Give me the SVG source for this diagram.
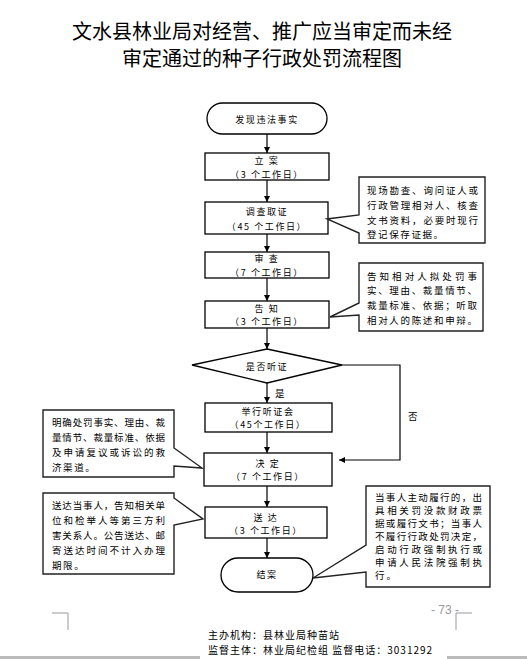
<svg xmlns="http://www.w3.org/2000/svg" width="527" height="659" viewBox="0 0 527 659">
<defs>
<style>
.box{fill:#fff;stroke:#000;stroke-width:1.3}
.co{fill:#fff;stroke:#222;stroke-width:1.4;stroke-linejoin:miter}
.ln{fill:none;stroke:#000;stroke-width:1.2}
.t{font-family:"Noto Sans CJK SC","Noto Sans",sans-serif;font-size:9px;letter-spacing:1.6px;text-anchor:middle;fill:#000}
.c{font-family:"Noto Sans CJK SC","Noto Sans",sans-serif;font-size:9.5px;fill:#000}
.title{font-family:"Noto Sans CJK SC",sans-serif;font-size:20px;text-anchor:middle;fill:#000}
.ft{font-family:"Noto Sans CJK SC",sans-serif;font-size:10px;letter-spacing:1px;fill:#000}
</style>
<marker id="ah" viewBox="0 0 8 8" refX="8" refY="4" markerWidth="6" markerHeight="6" markerUnits="userSpaceOnUse" orient="auto">
<path d="M0,0 L8,4 L0,8 Z" fill="#000"/>
</marker>
</defs>
<rect width="527" height="659" fill="#fff"/>
<g id="title">
<text class="title" x="262" y="39">文水县林业局对经营、推广应当审定而未经</text>
<text class="title" x="262" y="66">审定通过的种子行政处罚流程图</text>
</g>
<g id="connectors">
<line class="ln" x1="267" y1="134" x2="267" y2="153" marker-end="url(#ah)"/>
<line class="ln" x1="267" y1="180" x2="267" y2="202" marker-end="url(#ah)"/>
<line class="ln" x1="267" y1="234" x2="267" y2="252" marker-end="url(#ah)"/>
<line class="ln" x1="267" y1="278" x2="267" y2="301" marker-end="url(#ah)"/>
<line class="ln" x1="267" y1="328" x2="267" y2="349" marker-end="url(#ah)"/>
<line class="ln" x1="267" y1="383" x2="267" y2="403" marker-end="url(#ah)"/>
<line class="ln" x1="267" y1="432" x2="267" y2="453" marker-end="url(#ah)"/>
<polyline class="ln" points="342,365 400,365 400,460 339,460" marker-end="url(#ah)"/>
<line class="ln" x1="267" y1="486" x2="267" y2="507" marker-end="url(#ah)"/>
<line class="ln" x1="267" y1="538" x2="267" y2="558" marker-end="url(#ah)"/>
<text class="c" x="275" y="397">是</text>
<text class="c" x="408" y="420" font-size="11">否</text>
</g>
<g id="start">
<rect class="box" x="207" y="103" width="120" height="31" rx="15.5"/>
<text class="t" x="267" y="123">发现违法事实</text>
</g>
<g id="lian">
<rect class="box" x="205" y="153" width="124" height="27"/>
<text class="t" x="267" y="164">立 案</text>
<text class="t" x="267" y="178">（3 个工作日）</text>
</g>
<g id="diaocha">
<rect class="box" x="205" y="202" width="123" height="32"/>
<text class="t" x="267" y="215">调查取证</text>
<text class="t" x="267" y="230">（45 个工作日）</text>
</g>
<g id="shencha">
<rect class="box" x="205" y="252" width="124" height="26"/>
<text class="t" x="267" y="262">审 查</text>
<text class="t" x="267" y="276">（7 个工作日）</text>
</g>
<g id="gaozhi">
<rect class="box" x="205" y="301" width="124" height="27"/>
<text class="t" x="267" y="312">告 知</text>
<text class="t" x="267" y="325">（3 个工作日）</text>
</g>
<g id="decision">
<polygon class="box" points="267,349 342,365 267,383 192,365"/>
<text class="t" x="267" y="370">是否听证</text>
</g>
<g id="tingzheng">
<rect class="box" x="205" y="403" width="127" height="29"/>
<text class="t" x="268" y="415">举行听证会</text>
<text class="t" x="268" y="428">（45个工作日）</text>
</g>
<g id="jueding">
<rect class="box" x="204" y="453" width="128" height="33"/>
<text class="t" x="268" y="467">决 定</text>
<text class="t" x="268" y="480">（7 个工作日）</text>
</g>
<g id="songda">
<rect class="box" x="205" y="507" width="122" height="31"/>
<text class="t" x="266" y="521">送 达</text>
<text class="t" x="266" y="534">（3 个工作日）</text>
</g>
<g id="end">
<rect class="box" x="221" y="558" width="92" height="34" rx="17"/>
<text class="t" x="267" y="578">结案</text>
</g>
<g id="note1">
<path class="co" d="M359,177 H485 V243 H359 V233 L327,219 L359,215 Z"/>
<text class="c" x="367" y="194" textLength="111" lengthAdjust="spacing">现场勘查、询问证人或</text>
<text class="c" x="367" y="209" textLength="111" lengthAdjust="spacing">行政管理相对人、核查</text>
<text class="c" x="367" y="224" textLength="111" lengthAdjust="spacing">文书资料，必要时现行</text>
<text class="c" x="367" y="238" letter-spacing="1.6">登记保存证据。</text>
</g>
<g id="note2">
<path class="co" d="M359,263 H483 V331 H359 V315 L330,317 L359,303 Z"/>
<text class="c" x="367" y="280" textLength="110" lengthAdjust="spacing">告知相对人拟处罚事</text>
<text class="c" x="367" y="294" textLength="110" lengthAdjust="spacing">实、理由、裁量情节、</text>
<text class="c" x="367" y="309" textLength="110" lengthAdjust="spacing">裁量标准、依据；听取</text>
<text class="c" x="367" y="324" textLength="110" lengthAdjust="spacing">相对人的陈述和申辩。</text>
</g>
<g id="note3">
<path class="co" d="M43,410 H174 V448 L202,468 L174,466 V477 H43 Z"/>
<text class="c" x="52" y="426" textLength="113" lengthAdjust="spacing">明确处罚事实、理由、裁</text>
<text class="c" x="52" y="441" textLength="113" lengthAdjust="spacing">量情节、裁量标准、依据</text>
<text class="c" x="52" y="456" textLength="113" lengthAdjust="spacing">及申请复议或诉讼的救</text>
<text class="c" x="52" y="471" letter-spacing="1.6">济渠道。</text>
</g>
<g id="note4">
<path class="co" d="M43,493 H174 V498 L203,519 L174,525 V574 H43 Z"/>
<text class="c" x="52" y="509" textLength="113" lengthAdjust="spacing">送达当事人，告知相关单</text>
<text class="c" x="52" y="524" textLength="113" lengthAdjust="spacing">位和检举人等第三方利</text>
<text class="c" x="52" y="539" textLength="113" lengthAdjust="spacing">害关系人。公告送达、邮</text>
<text class="c" x="52" y="554" textLength="113" lengthAdjust="spacing">寄送达时间不计入办理</text>
<text class="c" x="52" y="569" letter-spacing="1.6">期限。</text>
</g>
<g id="note5">
<path class="co" d="M366,486 H490 V587 H366 V572 L313,578 L366,545 Z"/>
<text class="c" x="375" y="501" font-size="9" textLength="107" lengthAdjust="spacing">当事人主动履行的，出</text>
<text class="c" x="375" y="514" font-size="9" textLength="107" lengthAdjust="spacing">具相关罚没款财政票</text>
<text class="c" x="375" y="527" font-size="9" textLength="107" lengthAdjust="spacing">据或履行文书；当事人</text>
<text class="c" x="375" y="540" font-size="9" textLength="107" lengthAdjust="spacing">不履行行政处罚决定，</text>
<text class="c" x="375" y="553" font-size="9" textLength="107" lengthAdjust="spacing">启动行政强制执行或</text>
<text class="c" x="375" y="566" font-size="9" textLength="107" lengthAdjust="spacing">申请人民法院强制执</text>
<text class="c" x="375" y="579" font-size="9" letter-spacing="2">行。</text>
</g>
<g id="footer">
<text x="445" y="614" font-family="Liberation Sans, sans-serif" font-size="12" fill="#999" text-anchor="middle">- 73 -</text>
<polyline points="52,613 68,613 68,630" fill="none" stroke="#999" stroke-width="1"/>
<polyline points="472,613 456,613 456,630" fill="none" stroke="#999" stroke-width="1"/>
<text class="ft" x="208" y="639">主办机构：县林业局种苗站</text>
<text class="ft" x="208" y="654">监督主体：林业局纪检组 监督电话：3031292</text>
<rect x="0" y="656" width="200" height="3" fill="#bbb"/>
<rect x="447" y="656" width="80" height="3" fill="#bbb"/>
</g>
</svg>
